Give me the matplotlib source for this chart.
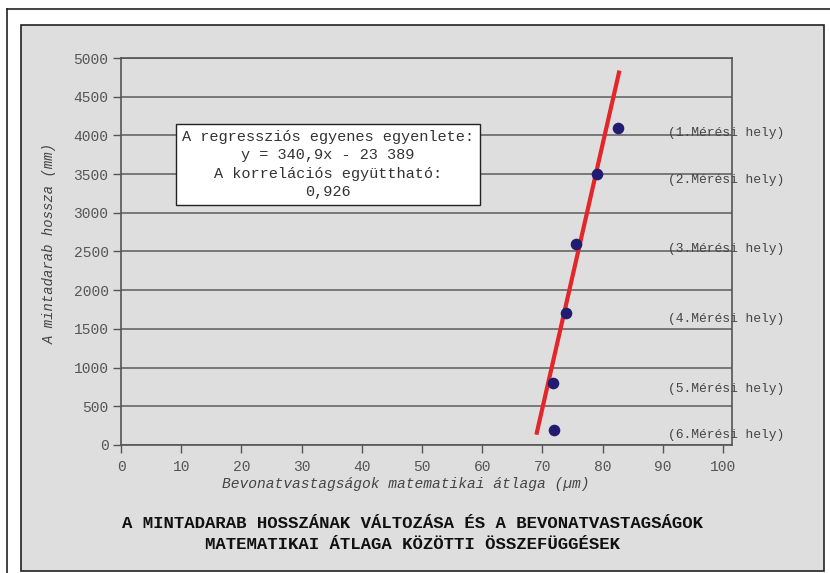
import matplotlib.pyplot as plt
from matplotlib.patches import Rectangle
from matplotlib.lines import Line2D

thickness = [82.5, 79.0, 75.6, 74.0, 71.8, 72.0]
length = [4100, 3500, 2600, 1700, 800, 200]
site_labels = ["(1.Mérési hely)", "(2.Mérési hely)", "(3.Mérési hely)",
               "(4.Mérési hely)", "(5.Mérési hely)", "(6.Mérési hely)"]
slope = 340.9
intercept = -23389
fit_x = [69.0, 82.8]
x_ticks = [0, 10, 20, 30, 40, 50, 60, 70, 80, 90, 100]
y_ticks = [0, 500, 1000, 1500, 2000, 2500, 3000, 3500, 4000, 4500, 5000]

mono = "Liberation Mono"
W, H = 830, 573


def main():
    fig = plt.figure(figsize=(W / 100, H / 100), dpi=100)
    fig.patch.set_facecolor("white")

    # outer border and grey panel
    fig.add_artist(Line2D([7 / W, 7 / W], [0, 1 - 9 / H], color="#222", lw=1.2))
    fig.add_artist(Line2D([7 / W, 1], [1 - 9 / H, 1 - 9 / H], color="#222", lw=1.2))
    fig.add_artist(Rectangle((21 / W, 1 - 571 / H), (824 - 21) / W, (571 - 25) / H,
                             facecolor="#dedede", edgecolor="#222", lw=1.2,
                             transform=fig.transFigure, zorder=0))

    ax = fig.add_axes([121 / W, 1 - 445 / H, (732 - 121) / W, (445 - 58) / H])
    ax.patch.set_alpha(0)
    ax.set_xlim(0, 101.5)
    ax.set_ylim(0, 5000)

    for y in y_ticks:
        ax.axhline(y, color="#666", lw=1.2, zorder=1)

    fit_y = [slope * x + intercept for x in fit_x]
    ax.plot(fit_x, fit_y, color="#e3262a", lw=3, zorder=3, solid_capstyle="butt")
    ax.scatter(thickness, length, s=70, color="#221c70", zorder=4, linewidths=0)

    for yv, lab in zip(length, site_labels):
        ax.annotate(lab, (90.9, yv), xytext=(0, -4), textcoords="offset points",
                    va="center", ha="left", fontsize=9.4, family=mono,
                    color="#444", zorder=2, annotation_clip=False)

    for s in ax.spines.values():
        s.set_color("#555")
        s.set_linewidth(1.2)
        s.set_zorder(5)

    ax.set_xticks(x_ticks)
    ax.set_yticks(y_ticks)
    ax.tick_params(direction="out", length=6, width=1, color="#555",
                   labelcolor="#555", labelsize=10.5, pad=3)
    for t in ax.get_xticklabels() + ax.get_yticklabels():
        t.set_family(mono)
    ax.tick_params(axis="x", pad=5)

    ax.set_ylabel("A mintadarab hossza (mm)", family=mono, style="italic",
                  fontsize=10, color="#444")
    ax.yaxis.set_label_coords(-0.105, 0.52)
    fig.text(406 / W, 1 - 484 / H, "Bevonatvastagságok matematikai átlaga (µm)",
             family=mono, style="italic", fontsize=10.5, color="#444",
             ha="center", va="center")

    fig.text(328 / W, 1 - 164.5 / H,
             "A regressziós egyenes egyenlete:\ny = 340,9x - 23 389\n"
             "A korrelációs együttható:\n0,926",
             family=mono, fontsize=11, color="#333", ha="center", va="center",
             linespacing=1.4,
             bbox=dict(boxstyle="square,pad=0.4", facecolor="white",
                       edgecolor="#222", lw=1))

    fig.text(412 / W, 1 - 534 / H,
             "A MINTADARAB HOSSZÁNAK VÁLTOZÁSA ÉS A BEVONATVASTAGSÁGOK\n"
             "MATEMATIKAI ÁTLAGA KÖZÖTTI ÖSSZEFÜGGÉSEK",
             family=mono, fontweight="bold", fontsize=12.5, color="#111",
             ha="center", va="center", linespacing=1.5)

    fig.savefig("out.png", dpi=100)


if __name__ == "__main__":
    main()
